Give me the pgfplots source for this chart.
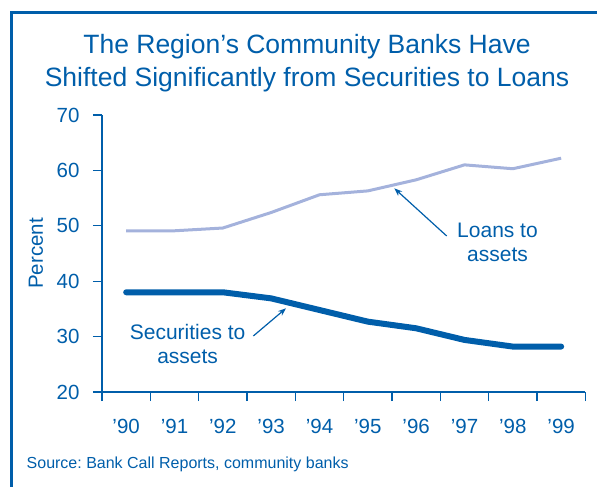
\documentclass[border=0pt]{standalone}
\usepackage{fontspec}
\setmainfont{Liberation Sans}
\usepackage{pgfplots}
\pgfplotsset{compat=1.18}
\usetikzlibrary{arrows.meta}
\definecolor{dblue}{RGB}{0,94,170}
\definecolor{lblue}{RGB}{164,178,220}
\frenchspacing
\begin{document}
\begin{tikzpicture}
\useasboundingbox (0,0) rectangle (597bp,487bp);
% frame
\draw[dblue, line width=3bp] (11bp,0) -- (11bp,474.5bp) -- (597bp,474.5bp);
% title
\node[dblue, anchor=base, inner sep=0pt, font=\fontsize{26.5bp}{32bp}\selectfont] at (307bp,433.7bp) {The Region’s Community Banks Have};
\node[dblue, anchor=base, inner sep=0pt, font=\fontsize{26.5bp}{32bp}\selectfont] at (307bp,400.2bp) {Shifted Significantly from Securities to Loans};
\begin{axis}[
  at={(102bp,95bp)}, anchor=south west,
  scale only axis, width=483.3bp, height=277bp,
  xmin=0, xmax=10, ymin=20, ymax=70,
  enlargelimits=false,
  axis lines=left, axis line style={-, dblue, line width=1.3bp},
  xtick={0,1,...,10}, x tick label as interval,
  xticklabels={’90,’91,’92,’93,’94,’95,’96,’97,’98,’99},
  ytick={20,30,...,70},
  tick align=outside, major tick length=9bp,
  tick style={dblue, line width=1.3bp},
  /pgf/number format/assume math mode=true,
  ticklabel style={dblue, font=\fontsize{20.5bp}{24bp}\selectfont},
  xticklabel style={yshift=-15bp},
  yticklabel style={xshift=-10bp},
  ylabel={Percent},
  ylabel style={dblue, font=\fontsize{20.5bp}{24bp}\selectfont, at={(axis description cs:-0.1366,0.5)}, anchor=center, inner sep=0pt},
  clip=false,
]
\addplot[lblue, line width=3bp] coordinates {
 (0.5,49.1) (1.5,49.1) (2.5,49.6) (3.5,52.4) (4.5,55.6) (5.5,56.3) (6.5,58.3) (7.5,61.0) (8.5,60.3) (9.5,62.2)};
\addplot[dblue, line width=6bp, line cap=round, line join=round] coordinates {
 (0.5,38.0) (1.5,38.0) (2.5,38.0) (3.5,36.9) (4.5,34.8) (5.5,32.7) (6.5,31.5) (7.5,29.4) (8.5,28.2) (9.5,28.2)};
\end{axis}
% annotations
\begin{scope}[font=\fontsize{21bp}{24bp}\selectfont, text=dblue]
\node[anchor=base, inner sep=0pt] at (187.6bp,147.7bp) {Securities to};
\node[anchor=base, inner sep=0pt] at (187.6bp,123.7bp) {assets};
\node[anchor=base, inner sep=0pt] at (497.5bp,249.7bp) {Loans to};
\node[anchor=base, inner sep=0pt] at (497.5bp,225.3bp) {assets};
\end{scope}
\draw[dblue, line width=1.2bp, -{Stealth[length=8bp,width=6bp]}] (253.3bp,151bp) -- (286bp,178.7bp);
\draw[dblue, line width=1.2bp, -{Stealth[length=8bp,width=6bp]}] (446.7bp,251bp) -- (394.3bp,298.7bp);
% source
\node[dblue, anchor=base west, inner sep=0pt, font=\fontsize{16bp}{20bp}\selectfont] at (26.5bp,18.7bp) {Source: Bank Call Reports, community banks};
\end{tikzpicture}
\end{document}
